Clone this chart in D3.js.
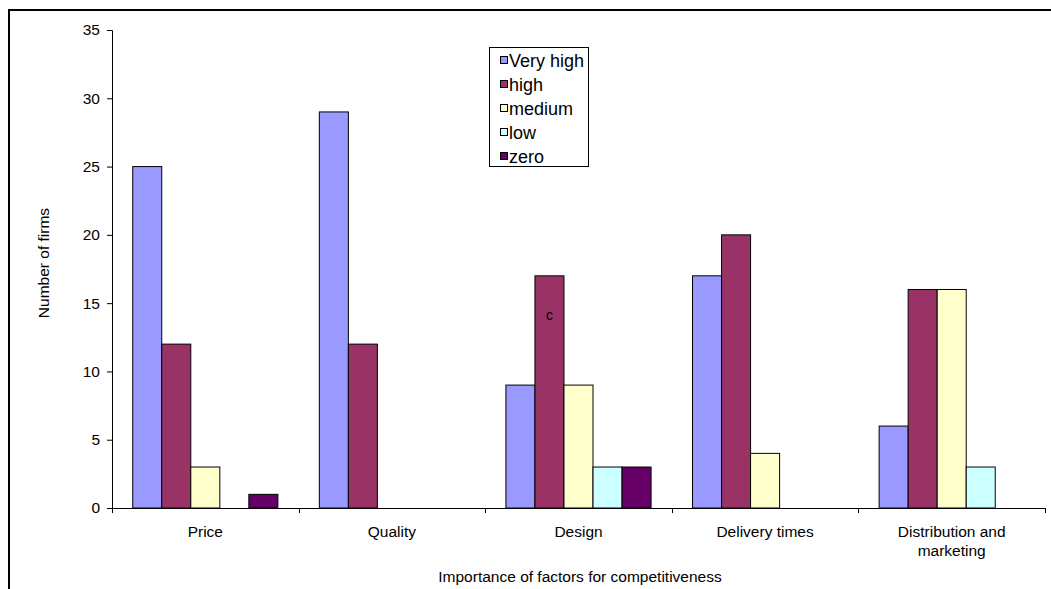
<!DOCTYPE html>
<html>
<head>
<meta charset="utf-8">
<script src="https://cdn.jsdelivr.net/npm/d3@7"></script>
<style>
  body { margin: 0; background: #fff; }
  svg text { font-family: "Liberation Sans", Arial, sans-serif; fill: #000; }
</style>
</head>
<body>
<svg id="chart" width="1051" height="589"></svg>
<script>
// Factors and response levels
const categories = ["Price", "Quality", "Design", "Delivery times", "Distribution and\nmarketing"];
const seriesNames = ["Very high", "high", "medium", "low", "zero"];
const seriesColors = ["#9999FF", "#993366", "#FFFFCC", "#CCFFFF", "#660066"];
const veryHigh = [25, 29, 9, 17, 6];
const high     = [12, 12, 17, 20, 16];
const medium   = [3, 0, 9, 4, 16];
const low      = [0, 0, 3, 0, 3];
const zero     = [1, 0, 3, 0, 0];
const seriesValues = [veryHigh, high, medium, low, zero];
const yTicks = [0, 5, 10, 15, 20, 25, 30, 35];

const axisFont = "15.5px";
const legendFont = "18px";

const svg = d3.select("#chart");

// Outer frame (top and left edges)
svg.append("line").attr("x1", 8).attr("x2", 1051).attr("y1", 10).attr("y2", 10)
  .attr("stroke", "#000").attr("stroke-width", 2);
svg.append("line").attr("x1", 9).attr("x2", 9).attr("y1", 9).attr("y2", 589)
  .attr("stroke", "#000").attr("stroke-width", 2);

const plot = { left: 112, right: 1045, top: 30, bottom: 508 };

const x = d3.scaleBand().domain(categories).range([plot.left, plot.right]).padding(0);
const xs = d3.scaleBand().domain(seriesNames)
  .range([0, x.bandwidth()]).paddingInner(0).paddingOuter(0.714);
const y = d3.scaleLinear().domain([0, 35]).range([plot.bottom, plot.top]);

// Bars
seriesNames.forEach((name, si) => {
  svg.append("g").selectAll("rect")
    .data(categories.map((c, ci) => ({ c, v: seriesValues[si][ci] })).filter(d => d.v > 0))
    .join("rect")
    .attr("x", d => x(d.c) + xs(name))
    .attr("y", d => y(d.v))
    .attr("width", xs.bandwidth())
    .attr("height", d => y(0) - y(d.v))
    .attr("fill", seriesColors[si])
    .attr("stroke", "#000")
    .attr("stroke-width", 1);
});

// Y axis
const yAxis = d3.axisLeft(y).tickValues(yTicks).tickSize(5).tickPadding(7);
const gy = svg.append("g").attr("transform", `translate(${plot.left},0)`).call(yAxis);
gy.select(".domain").attr("stroke", "#000");
gy.selectAll("text").style("font-size", axisFont).attr("font-family", null);

// X axis: ticks at cluster boundaries
const boundaries = categories.map(c => x(c)).concat([plot.right]);
const gx = svg.append("g");
gx.append("line").attr("x1", plot.left).attr("x2", plot.right)
  .attr("y1", plot.bottom + 0.5).attr("y2", plot.bottom + 0.5).attr("stroke", "#000");
gx.selectAll("line.tick").data(boundaries).join("line").attr("class", "tick")
  .attr("x1", d => Math.round(d) + 0.5).attr("x2", d => Math.round(d) + 0.5)
  .attr("y1", plot.bottom).attr("y2", plot.bottom + 5).attr("stroke", "#000");
gx.selectAll("text").data(categories).join("text")
  .attr("text-anchor", "middle")
  .style("font-size", axisFont)
  .each(function(c) {
    const lines = c.split("\n");
    d3.select(this).selectAll("tspan").data(lines).join("tspan")
      .attr("x", x(c) + x.bandwidth() / 2)
      .attr("y", (d, i) => 537 + i * 19)
      .text(d => d);
  });

// Axis titles
svg.append("text").attr("x", 580).attr("y", 582)
  .attr("text-anchor", "middle").style("font-size", axisFont)
  .text("Importance of factors for competitiveness");
svg.append("text").attr("transform", "translate(49,263) rotate(-90)")
  .attr("text-anchor", "middle").style("font-size", axisFont)
  .text("Number of firms");

// Annotation inside the Design "high" bar
svg.append("text")
  .attr("x", x(categories[2]) + xs("high") + xs.bandwidth() / 2)
  .attr("y", 320)
  .attr("text-anchor", "middle").style("font-size", "14px")
  .text("c");

// Legend
const lg = svg.append("g").attr("transform", "translate(489.5,47.5)");
lg.append("rect").attr("width", 99).attr("height", 119).attr("fill", "#fff").attr("stroke", "#000");
seriesNames.forEach((name, i) => {
  const row = lg.append("g").attr("transform", `translate(0,${9 + i * 24})`);
  row.append("rect").attr("x", 11).attr("y", 0).attr("width", 7).attr("height", 7)
    .attr("fill", seriesColors[i]).attr("stroke", "#000");
  row.append("text").attr("x", 19.5).attr("y", 10).style("font-size", legendFont).text(name);
});
</script>
</body>
</html>
